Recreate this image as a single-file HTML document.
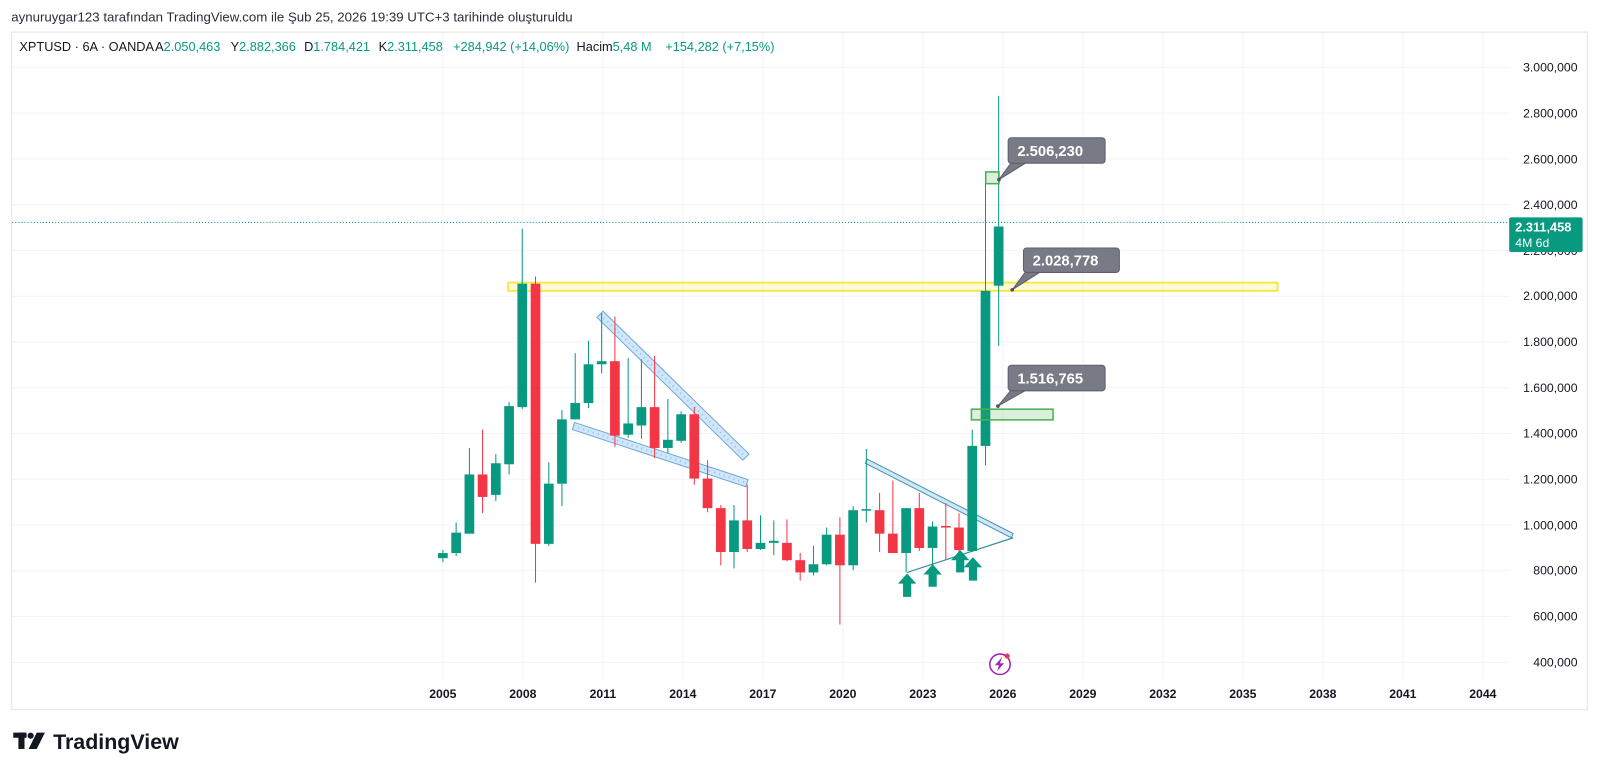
<!DOCTYPE html>
<html><head><meta charset="utf-8"><style>
html,body{margin:0;padding:0;background:#fff;}
svg{display:block;}
text{font-family:"Liberation Sans",sans-serif;}
</style></head><body>
<svg width="1600" height="776" viewBox="0 0 1568 760.5" xmlns="http://www.w3.org/2000/svg">
<rect x="0" y="0" width="1568" height="760.5" fill="#fff"/>
<text x="11" y="21" font-size="13" fill="#2a2e39">aynuruygar123 tarafından TradingView.com ile Şub 25, 2026 19:39 UTC+3 tarihinde oluşturuldu</text>
<rect x="11.5" y="31.5" width="1544" height="664" fill="none" stroke="#e0e3eb"/>
<g stroke="#f0f3fa" stroke-width="1">
<line x1="434" y1="32" x2="434" y2="665"/><line x1="512.4" y1="32" x2="512.4" y2="665"/><line x1="590.8" y1="32" x2="590.8" y2="665"/><line x1="669.2" y1="32" x2="669.2" y2="665"/><line x1="747.6" y1="32" x2="747.6" y2="665"/><line x1="826" y1="32" x2="826" y2="665"/><line x1="904.4" y1="32" x2="904.4" y2="665"/><line x1="982.8" y1="32" x2="982.8" y2="665"/><line x1="1061.2" y1="32" x2="1061.2" y2="665"/><line x1="1139.6" y1="32" x2="1139.6" y2="665"/><line x1="1218" y1="32" x2="1218" y2="665"/><line x1="1296.4" y1="32" x2="1296.4" y2="665"/><line x1="1374.8" y1="32" x2="1374.8" y2="665"/><line x1="1453.2" y1="32" x2="1453.2" y2="665"/>
<line x1="12" y1="66" x2="1480" y2="66"/><line x1="12" y1="110.9" x2="1480" y2="110.9"/><line x1="12" y1="155.7" x2="1480" y2="155.7"/><line x1="12" y1="200.6" x2="1480" y2="200.6"/><line x1="12" y1="245.4" x2="1480" y2="245.4"/><line x1="12" y1="290.3" x2="1480" y2="290.3"/><line x1="12" y1="335.1" x2="1480" y2="335.1"/><line x1="12" y1="380" x2="1480" y2="380"/><line x1="12" y1="424.8" x2="1480" y2="424.8"/><line x1="12" y1="469.7" x2="1480" y2="469.7"/><line x1="12" y1="514.5" x2="1480" y2="514.5"/><line x1="12" y1="559.4" x2="1480" y2="559.4"/><line x1="12" y1="604.2" x2="1480" y2="604.2"/><line x1="12" y1="649.1" x2="1480" y2="649.1"/>
</g>
<g font-size="12.5" fill="#131722">
<text x="19" y="50">XPTUSD · 6A · OANDA</text>
<text x="152" y="50">A<tspan fill="#089981">2.050,463</tspan></text>
<text x="226" y="50">Y<tspan fill="#089981">2.882,366</tspan></text>
<text x="298" y="50">D<tspan fill="#089981">1.784,421</tspan></text>
<text x="371" y="50">K<tspan fill="#089981">2.311,458</tspan></text>
<text x="444" y="50" fill="#089981">+284,942 (+14,06%)</text>
<text x="565" y="50">Hacim<tspan fill="#089981">5,48 M</tspan></text>
<text x="652" y="50" fill="#089981">+154,282 (+7,15%)</text>
</g>
<g font-size="12" fill="#131722" text-anchor="end">
<text x="1546" y="70">3.000,000</text><text x="1546" y="115">2.800,000</text><text x="1546" y="160">2.600,000</text><text x="1546" y="205">2.400,000</text><text x="1546" y="250">2.200,000</text><text x="1546" y="294">2.000,000</text><text x="1546" y="339">1.800,000</text><text x="1546" y="384">1.600,000</text><text x="1546" y="429">1.400,000</text><text x="1546" y="474">1.200,000</text><text x="1546" y="519">1.000,000</text><text x="1546" y="563">800,000</text><text x="1546" y="608">600,000</text><text x="1546" y="653">400,000</text>
</g>
<g font-size="12" font-weight="bold" fill="#131722" text-anchor="middle">
<text x="434" y="684">2005</text><text x="512.4" y="684">2008</text><text x="590.8" y="684">2011</text><text x="669.2" y="684">2014</text><text x="747.6" y="684">2017</text><text x="826" y="684">2020</text><text x="904.4" y="684">2023</text><text x="982.8" y="684">2026</text><text x="1061.2" y="684">2029</text><text x="1139.6" y="684">2032</text><text x="1218" y="684">2035</text><text x="1296.4" y="684">2038</text><text x="1374.8" y="684">2041</text><text x="1453.2" y="684">2044</text>
</g>
<line x1="12" y1="218" x2="1479" y2="218" stroke="#089981" stroke-dasharray="1 2"/>
<rect x="498" y="277" width="754" height="8" fill="rgba(255,235,59,0.2)" stroke="#f7e94a" stroke-width="2"/>
<polygon points="591,305 734,445 728,451 585,311" fill="#cfe6fb" stroke="#6fa8d6" stroke-width="1"/>
<line x1="588" y1="308" x2="731" y2="448" stroke="#90c3ef" stroke-dasharray="1 4" stroke-width="2"/>
<polygon points="563,414 733,470 731,477 561,421" fill="#cfe6fb" stroke="#6fa8d6" stroke-width="1"/>
<line x1="562" y1="417.5" x2="732" y2="473.5" stroke="#90c3ef" stroke-dasharray="1 4" stroke-width="2"/>
<polygon points="850,450 993,523 991,527 848,454" fill="#cfe6fb" stroke="#4a95a8" stroke-width="1"/>
<line x1="889" y1="561" x2="993" y2="527" stroke="#3d8fa0" stroke-width="1.2"/>
<g stroke-width="1">
<g fill="#089981" stroke="#089981">
<line x1="434" y1="539" x2="434" y2="551"/><rect x="429.25" y="542" width="9.5" height="5" stroke="none"/>
<line x1="447" y1="512" x2="447" y2="545"/><rect x="442.25" y="522" width="9.5" height="20" stroke="none"/>
<line x1="460" y1="439" x2="460" y2="523"/><rect x="455.25" y="465" width="9.5" height="58" stroke="none"/>
<line x1="485.9" y1="445" x2="485.9" y2="491"/><rect x="481.15" y="454" width="9.5" height="31" stroke="none"/>
<line x1="498.9" y1="394" x2="498.9" y2="465"/><rect x="494.15" y="398" width="9.5" height="57" stroke="none"/>
<line x1="511.8" y1="224" x2="511.8" y2="401"/><rect x="507.05" y="278" width="9.5" height="121" stroke="none"/>
<line x1="537.8" y1="453" x2="537.8" y2="535"/><rect x="533.05" y="474" width="9.5" height="59" stroke="none"/>
<line x1="550.7" y1="402" x2="550.7" y2="496"/><rect x="545.95" y="411" width="9.5" height="63" stroke="none"/>
<line x1="563.7" y1="346" x2="563.7" y2="411"/><rect x="558.95" y="395" width="9.5" height="16" stroke="none"/>
<line x1="576.7" y1="334" x2="576.7" y2="400"/><rect x="571.95" y="357" width="9.5" height="38" stroke="none"/>
<line x1="589.6" y1="307" x2="589.6" y2="366"/><rect x="584.85" y="354" width="9.5" height="3" stroke="none"/>
<line x1="615.6" y1="351" x2="615.6" y2="429"/><rect x="610.85" y="415" width="9.5" height="11" stroke="none"/>
<line x1="628.6" y1="352" x2="628.6" y2="430"/><rect x="623.85" y="399" width="9.5" height="18" stroke="none"/>
<line x1="654.5" y1="391" x2="654.5" y2="444"/><rect x="649.75" y="431" width="9.5" height="8" stroke="none"/>
<line x1="667.5" y1="403" x2="667.5" y2="434"/><rect x="662.75" y="406" width="9.5" height="26" stroke="none"/>
<line x1="719.3" y1="495" x2="719.3" y2="557"/><rect x="714.55" y="510" width="9.5" height="31" stroke="none"/>
<line x1="745.3" y1="505" x2="745.3" y2="539"/><rect x="740.55" y="532" width="9.5" height="6" stroke="none"/>
<line x1="758.3" y1="510" x2="758.3" y2="544"/><rect x="753.55" y="530" width="9.5" height="2" stroke="none"/>
<line x1="797.2" y1="535" x2="797.2" y2="564"/><rect x="792.45" y="553" width="9.5" height="8" stroke="none"/>
<line x1="810.1" y1="517" x2="810.1" y2="554"/><rect x="805.35" y="524" width="9.5" height="29" stroke="none"/>
<line x1="836.1" y1="496" x2="836.1" y2="559"/><rect x="831.35" y="500" width="9.5" height="54" stroke="none"/>
<line x1="849" y1="440" x2="849" y2="512"/><rect x="844.25" y="499" width="9.5" height="1.5" stroke="none"/>
<line x1="888" y1="498" x2="888" y2="561"/><rect x="883.25" y="498" width="9.5" height="44" stroke="none"/>
<line x1="913.9" y1="511" x2="913.9" y2="554"/><rect x="909.15" y="516" width="9.5" height="21" stroke="none"/>
<line x1="952.8" y1="421" x2="952.8" y2="541"/><rect x="948.05" y="437" width="9.5" height="103" stroke="none"/>
<line x1="965.8" y1="170" x2="965.8" y2="456"/><rect x="961.05" y="285" width="9.5" height="152" stroke="none"/>
<line x1="978.7" y1="94" x2="978.7" y2="339"/><rect x="973.95" y="222" width="9.5" height="58" stroke="none"/>
</g>
<g fill="#f23645" stroke="#f23645">
<line x1="472.9" y1="421" x2="472.9" y2="503"/><rect x="468.15" y="465" width="9.5" height="22" stroke="none"/>
<line x1="524.8" y1="271" x2="524.8" y2="571"/><rect x="520.05" y="278" width="9.5" height="255" stroke="none"/>
<line x1="602.6" y1="310" x2="602.6" y2="438"/><rect x="597.85" y="354" width="9.5" height="73" stroke="none"/>
<line x1="641.5" y1="349" x2="641.5" y2="449"/><rect x="636.75" y="399" width="9.5" height="40" stroke="none"/>
<line x1="680.4" y1="399" x2="680.4" y2="475"/><rect x="675.65" y="406" width="9.5" height="63" stroke="none"/>
<line x1="693.4" y1="451" x2="693.4" y2="502"/><rect x="688.65" y="469" width="9.5" height="29" stroke="none"/>
<line x1="706.4" y1="495" x2="706.4" y2="554"/><rect x="701.65" y="498" width="9.5" height="43" stroke="none"/>
<line x1="732.3" y1="475" x2="732.3" y2="541"/><rect x="727.55" y="510" width="9.5" height="28" stroke="none"/>
<line x1="771.2" y1="509" x2="771.2" y2="550"/><rect x="766.45" y="532" width="9.5" height="17" stroke="none"/>
<line x1="784.2" y1="542" x2="784.2" y2="569"/><rect x="779.45" y="549" width="9.5" height="12" stroke="none"/>
<line x1="823.1" y1="507" x2="823.1" y2="612"/><rect x="818.35" y="524" width="9.5" height="30" stroke="none"/>
<line x1="862" y1="483" x2="862" y2="541"/><rect x="857.25" y="500" width="9.5" height="23" stroke="none"/>
<line x1="875" y1="471" x2="875" y2="542"/><rect x="870.25" y="523" width="9.5" height="19" stroke="none"/>
<line x1="900.9" y1="483" x2="900.9" y2="540"/><rect x="896.15" y="498" width="9.5" height="39" stroke="none"/>
<line x1="926.9" y1="493" x2="926.9" y2="548"/><rect x="922.15" y="515.5" width="9.5" height="1.5" stroke="none"/>
<line x1="939.8" y1="503" x2="939.8" y2="541"/><rect x="935.05" y="517" width="9.5" height="22" stroke="none"/>
</g>
</g>
<g fill="#089981">
<polygon points="889,562 898,572 893,572 893,585 885,585 885,572 880,572"/>
<polygon points="914,553 923,563 918,563 918,575 910,575 910,563 905,563"/>
<polygon points="941,539 950,549 945,549 945,561 937,561 937,549 932,549"/>
<polygon points="953.5,546 962.5,556 957.5,556 957.5,569 949.5,569 949.5,556 944.5,556"/>
</g>
<rect x="966" y="168.5" width="13" height="11.5" fill="rgba(76,175,80,0.2)" stroke="#4caf50" stroke-width="1.5"/>
<rect x="952" y="401" width="80" height="10.5" fill="rgba(76,175,80,0.2)" stroke="#4caf50" stroke-width="1.5"/>
<g font-size="14.5" font-weight="bold" fill="#fff">
<polygon points="992,158 1008,158 979,176" fill="#787b86" stroke="#5d606b"/>
<rect x="988" y="135" width="95" height="25" rx="3" fill="#787b86" stroke="#5d606b"/>
<text x="997" y="153">2.506,230</text>
<polygon points="1006,265 1022,265 992,284" fill="#787b86" stroke="#5d606b"/>
<rect x="1003" y="243" width="94" height="24" rx="3" fill="#787b86" stroke="#5d606b"/>
<text x="1012" y="260">2.028,778</text>
<polygon points="992,381 1008,381 978,398" fill="#787b86" stroke="#5d606b"/>
<rect x="988" y="358" width="95" height="25" rx="3" fill="#787b86" stroke="#5d606b"/>
<text x="997" y="376">1.516,765</text>
</g>
<circle cx="979" cy="176" r="1.8" fill="#50535e"/><circle cx="992" cy="284" r="1.8" fill="#50535e"/><circle cx="978" cy="398" r="1.8" fill="#50535e"/>
<rect x="1479" y="213" width="72" height="34" rx="2" fill="#089981"/>
<text x="1485" y="227" font-size="12.5" font-weight="bold" fill="#fff">2.311,458</text>
<text x="1485" y="242" font-size="12" fill="#fff">4M 6d</text>
<circle cx="980" cy="651" r="10" fill="#fff" stroke="#9c27b0" stroke-width="1.5"/>
<polygon points="982,644 975,652 979,652 977,658 984,650 980,650" fill="#9c27b0"/>
<circle cx="987" cy="643" r="2.5" fill="#f23645"/>
<g fill="#131722">
<rect x="13" y="718" width="13" height="5"/><rect x="18" y="718" width="6" height="16"/>
<circle cx="30" cy="721" r="3"/>
<polygon points="36,718 44,718 36,734 28,734"/>
</g>
<text x="52" y="734" font-size="21" font-weight="bold" fill="#131722">TradingView</text>
</svg>
</body></html>
